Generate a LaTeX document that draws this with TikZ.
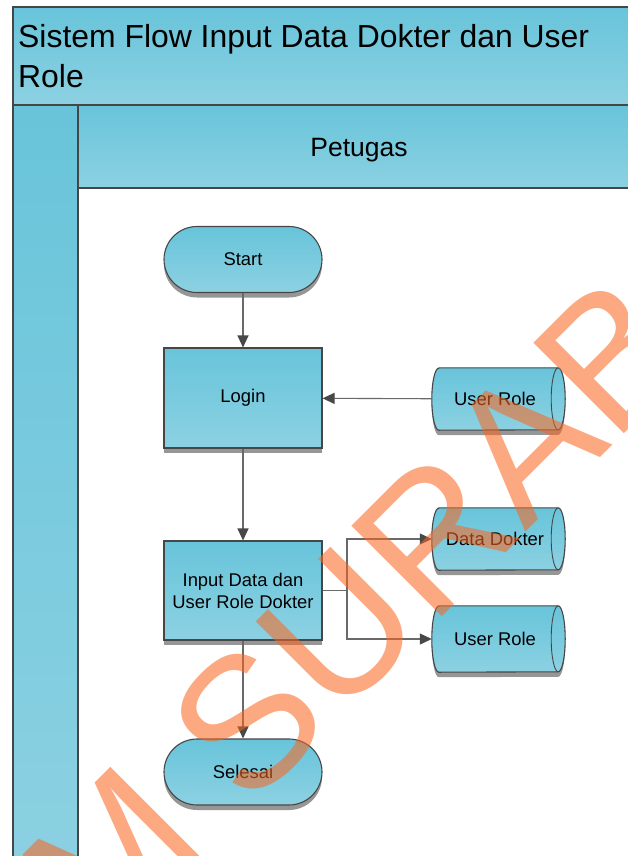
\documentclass[tikz,border=0pt]{standalone}
\usepackage{fontspec}
\setmainfont{Liberation Sans}
\usetikzlibrary{arrows.meta,shadows}

\definecolor{lanetop}{RGB}{104,196,218}
\definecolor{lanebot}{RGB}{140,209,226}
\definecolor{edgec}{RGB}{70,70,70}
\definecolor{flowc}{RGB}{105,105,105}
\definecolor{tipc}{RGB}{72,72,72}
\definecolor{shadowc}{RGB}{150,150,150}
\definecolor{stamp}{RGB}{250,102,31}

\pgfdeclarelayer{lanes}
\pgfdeclarelayer{shapes}
\pgfdeclarelayer{stamplayer}
\pgfsetlayers{lanes,shapes,main,stamplayer}

\tikzset{
  boxfill/.style={top color=lanetop, bottom color=lanebot, draw=edgec, line width=1.1pt},
  shadowed/.style={drop shadow={shadow xshift=0pt, shadow yshift=-5pt, fill=shadowc, opacity=1}},
  boxtext/.style={font=\fontsize{18.4}{22}\selectfont},
  procbox/.style={boxfill, shadowed, boxtext, rectangle, minimum width=158pt,
    minimum height=100pt, inner sep=0pt, align=center},
  termbox/.style={boxfill, shadowed, boxtext, rectangle, rounded corners=33pt,
    minimum width=158pt, minimum height=66pt, inner sep=0pt},
  % text sits centred on the body, left of the end cap
  drumnode/.style={boxtext, rectangle, minimum width=133pt, inner sep=0pt,
    execute at end node={\hspace*{7pt}}},
  flow/.style={draw=flowc, line width=1.1pt, -{Triangle[length=12pt,width=11pt,color=tipc]}},
  link/.style={draw=flowc, line width=1.1pt},
  laneedge/.style={draw=edgec, line width=1.3pt},
  lanefill/.style={laneedge, top color=lanetop, bottom color=lanebot}
}

% horizontal data store: flat top and bottom, curved left end, elliptic right cap
\newcommand\drumoutline[2]{%
  \path[boxfill, shadowed] ([xshift=7pt]#1.north west) -- ([xshift=-7pt]#1.north east)
    arc[start angle=90, end angle=-90, x radius=7pt, y radius=#2]
    -- ([xshift=7pt]#1.south west)
    arc[start angle=270, end angle=90, x radius=7pt, y radius=#2] -- cycle;
  \draw[edgec, line width=0.9pt] ([xshift=-7pt]#1.north east)
    arc[start angle=90, end angle=270, x radius=7pt, y radius=#2];
}

\begin{document}
\begin{tikzpicture}[x=1pt, y=-1pt]
\useasboundingbox (0,0) rectangle (628,856);

% swimlane frame
\begin{pgfonlayer}{lanes}
  \path[lanefill] (13,7) rectangle (650,105);
  \path[lanefill] (13,105) rectangle (78,880);
  \path[lanefill] (78,105) rectangle (650,188);
  \path[laneedge, fill=white] (78,188) rectangle (650,880);
\end{pgfonlayer}

\node[anchor=north west, inner sep=0pt, align=left, font=\fontsize{31.9}{40}\selectfont]
  (title) at (18,24) {Sistem Flow Input Data Dokter dan User\\Role};
\node[anchor=base, inner sep=0pt, font=\fontsize{26.5}{30}\selectfont]
  (lane) at (359,157) {Petugas};

% process steps
\node[termbox] (start) at (243,259.5) {Start};
\node[procbox] (login) at (243,398) {Login};
\node[procbox, minimum height=99pt] (input) at (243,590.5) {Input Data dan\\User Role Dokter};
\node[termbox] (finish) at (243,772) {Selesai};

% data stores
\node[drumnode, minimum height=62pt] (roleA) at (498.5,399) {User Role};
\node[drumnode, minimum height=62pt] (doc) at (498.5,539) {Data Dokter};
\node[drumnode, minimum height=66pt] (roleB) at (498.5,639) {User Role};
\begin{pgfonlayer}{shapes}
  \drumoutline{roleA}{31pt}
  \drumoutline{doc}{31pt}
  \drumoutline{roleB}{33pt}
\end{pgfonlayer}

% connectors
\draw[flow] (start) -- (login);
\draw[flow] (login) -- (input);
\draw[flow] (input) -- (finish);
\draw[flow] (roleA) -- (login);
\coordinate (split) at (347,590.5);
\draw[link] (input.east) -- (split);
\draw[flow] (split) |- (doc.west);
\draw[flow] (split) |- (roleB.west);

% diagonal stamp across the page
\begin{pgfonlayer}{stamplayer}
  \node[rotate=45, anchor=base west, inner sep=0pt, text=stamp, text opacity=0.56,
    font=\fontsize{186}{186}\selectfont] (mark) at (-292.5,1351) {STIKOM SURABAYA};
\end{pgfonlayer}
\end{tikzpicture}
\end{document}
